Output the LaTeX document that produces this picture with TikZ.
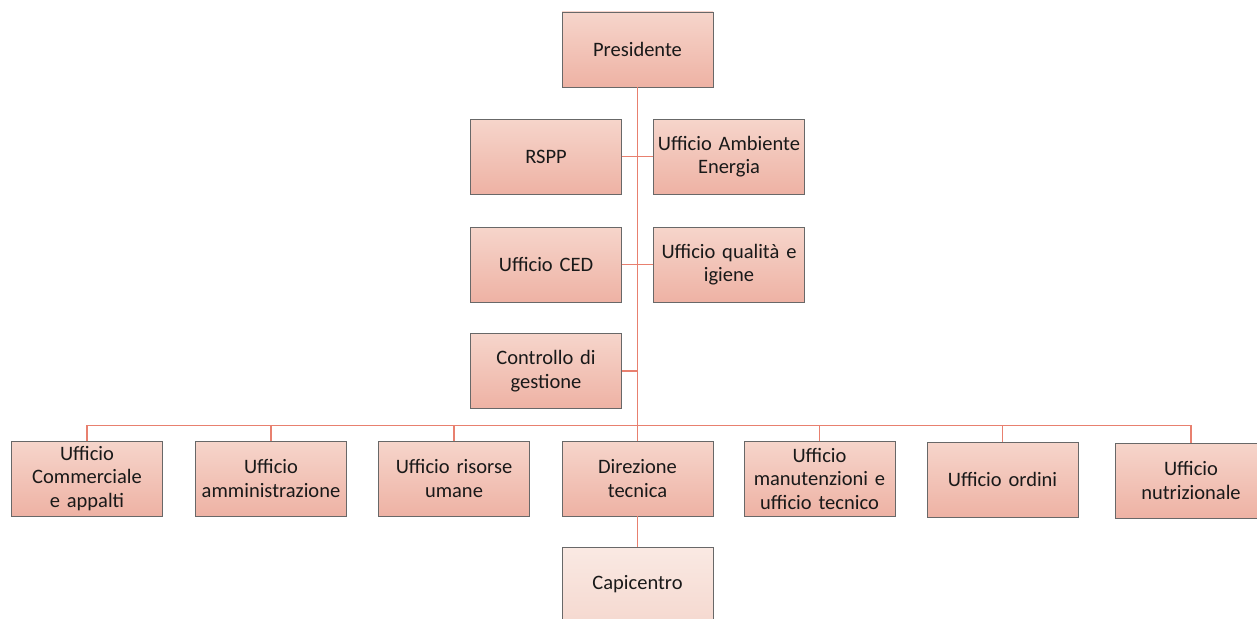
\documentclass[tikz,border=0pt]{standalone}
\usepackage{fontspec}
\setmainfont{Carlito}
\begin{document}
\begin{tikzpicture}[x=1pt,y=-1pt,
  orgbox/.style={draw=boxline, line width=0.9pt, top color=boxtop, bottom color=boxbot,
    minimum width=151pt, minimum height=75pt, inner sep=0pt, text width=151pt, align=center,
    font=\fontsize{20.5}{23.5}\selectfont, text=black!90},
  lightbox/.style={orgbox, top color=lighttop, bottom color=lightbot},
  link/.style={draw=linkcol, line width=1.4pt}]
\definecolor{boxtop}{HTML}{F6D5CB}
\definecolor{boxbot}{HTML}{EEB2A4}
\definecolor{lighttop}{HTML}{FAE9E3}
\definecolor{lightbot}{HTML}{F5D9D0}
\definecolor{boxline}{HTML}{686868}
\definecolor{linkcol}{HTML}{E8806F}
\useasboundingbox (0,0) rectangle (1257,618);
\begin{scope}
\clip (0,0) rectangle (1257,618);
% nodes
\node[orgbox] (pres) at (637.5,49.5) {Presidente};
\node[orgbox] (rspp) at (546,156.5) {RSPP};
\node[orgbox] (amb) at (729,156.5) {Ufficio Ambiente\\Energia};
\node[orgbox] (ced) at (546,264.5) {Ufficio CED};
\node[orgbox] (qual) at (729,264.5) {Ufficio qualità e\\igiene};
\node[orgbox] (ctrl) at (546,371) {Controllo di\\gestione};
\node[orgbox] (com) at (87,478.5) {Ufficio\\Commerciale\\e appalti};
\node[orgbox] (amm) at (271,478.5) {Ufficio\\amministrazione};
\node[orgbox] (ris) at (454,478.5) {Ufficio risorse\\umane};
\node[orgbox] (dir) at (637.5,478.5) {Direzione\\tecnica};
\node[orgbox] (man) at (819.5,478.5) {Ufficio\\manutenzioni e\\ufficio tecnico};
\node[orgbox] (ord) at (1002.5,479.5) {Ufficio ordini};
\node[orgbox] (nut) at (1191,480.5) {Ufficio\\nutrizionale};
\node[lightbox] (capi) at (637.5,584.5) {Capicentro};
\coordinate (bus) at (637.5,425.5);
% connectors
\draw[link] (pres.south) -- (dir.north);
\draw[link] (rspp.east) -- (amb.west);
\draw[link] (ced.east) -- (qual.west);
\draw[link] (ctrl.east) -- (ctrl.east -| bus);
\draw[link] (com.north) |- (bus);
\draw[link] (nut.north) |- (bus);
\draw[link] (amm.north) -- (amm.north |- bus);
\draw[link] (ris.north) -- (ris.north |- bus);
\draw[link] (man.north) -- (man.north |- bus);
\draw[link] (ord.north) -- (ord.north |- bus);
\draw[link] (dir.south) -- (capi.north);
\end{scope}
\end{tikzpicture}
\end{document}
